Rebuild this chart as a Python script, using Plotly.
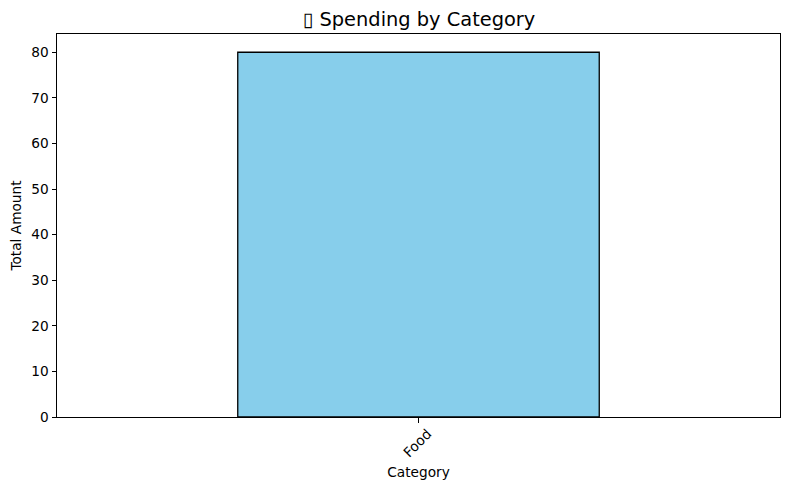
import plotly.graph_objects as go

categories = ["Food"]
totals = [80]
title_text = "\u25AF Spending by Category"

FONT = "DejaVu Sans"
TICK = 13.7
W, H = 782, 482  # the page itself adds 8 px on the left and top

fig = go.Figure(
    go.Bar(
        x=categories,
        y=totals,
        width=0.5,
        marker=dict(color="skyblue", line=dict(color="black", width=1.3)),
        hoverinfo="x+y",
    )
)
fig.update_layout(
    width=W,
    height=H,
    margin=dict(l=49, r=9.5, t=25.5, b=73),
    paper_bgcolor="white",
    plot_bgcolor="white",
    showlegend=False,
    font=dict(family=FONT, size=TICK, color="black"),
    title=dict(
        text=title_text,
        x=411 / W,
        xanchor="center",
        y=1 - 11 / H,
        yanchor="middle",
        font=dict(family=FONT, size=19.4, color="black"),
    ),
)
fig.update_xaxes(
    type="category",
    range=[-0.5, 0.5],
    tickangle=-45,
    ticks="outside",
    ticklen=4.5,
    tickwidth=1,
    tickcolor="black",
    tickfont=dict(family=FONT, size=TICK),
    ticklabelshift=9,
    ticklabelstandoff=-2,
    showgrid=False,
    zeroline=False,
    showline=True,
    linecolor="black",
    linewidth=1,
    mirror=True,
    title=dict(text="Category", font=dict(family=FONT, size=TICK), standoff=8),
)
fig.update_yaxes(
    automargin=False,
    range=[0, 84],
    tickvals=[0, 10, 20, 30, 40, 50, 60, 70, 80],
    ticks="outside",
    ticklen=4.5,
    tickwidth=1,
    tickcolor="black",
    tickfont=dict(family=FONT, size=TICK),
    showgrid=False,
    zeroline=False,
    showline=True,
    linecolor="black",
    linewidth=1,
    mirror=True,
    title=dict(text="Total Amount", font=dict(family=FONT, size=TICK), standoff=8),
)
fig.write_html("out.html")
